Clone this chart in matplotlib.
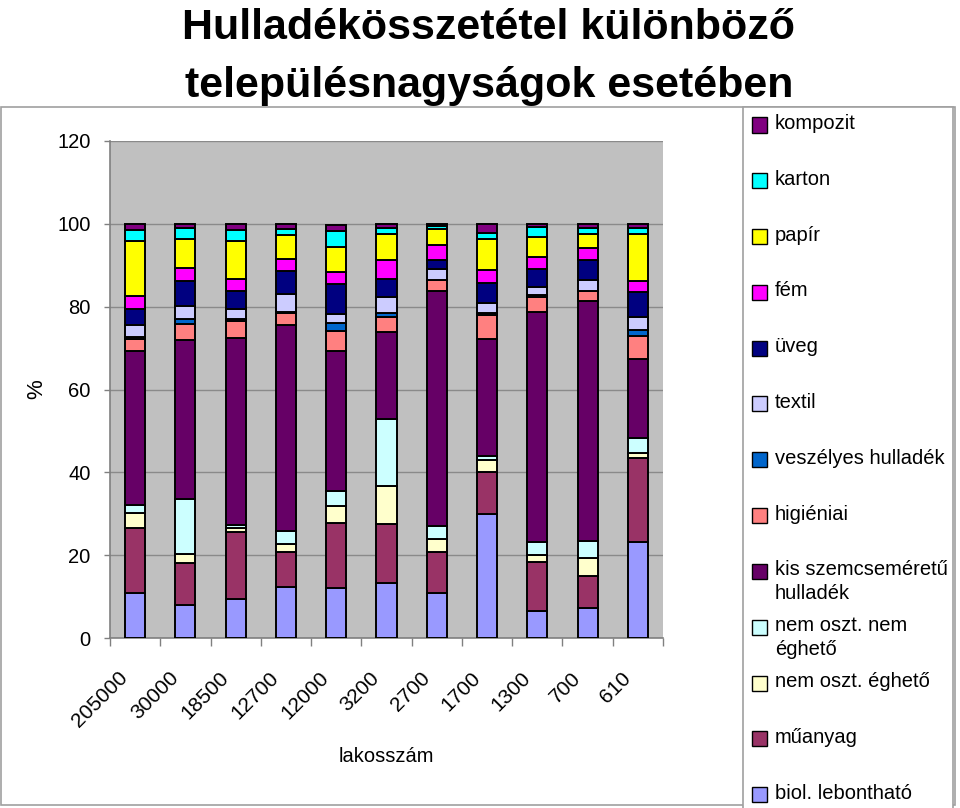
import matplotlib
matplotlib.use('Agg')
import matplotlib.pyplot as plt
from matplotlib.patches import Rectangle
import matplotlib.transforms as mtransforms
import numpy as np

categories = ['205000', '30000', '18500', '12700', '12000', '3200', '2700', '1700', '1300', '700', '610']
biol = [10.9, 8.0, 9.4, 12.4, 12.0, 13.4, 10.8, 29.9, 6.6, 7.2, 23.1]
muanyag = [15.6, 10.0, 16.1, 8.3, 15.8, 14.1, 10.0, 10.1, 11.7, 7.8, 20.3]
eghet = [3.6, 2.2, 1.0, 1.9, 4.1, 9.2, 3.0, 3.0, 1.7, 4.4, 1.2]
nem_eghet = [2.0, 13.3, 0.9, 3.2, 3.6, 16.1, 3.2, 0.9, 3.1, 4.0, 3.6]
kis = [37.2, 38.4, 45.0, 49.8, 33.9, 21.0, 56.8, 28.2, 55.5, 58.0, 19.1]
hig = [2.8, 3.9, 4.1, 2.8, 4.8, 3.6, 2.6, 5.9, 3.8, 2.4, 5.6]
vesz = [0.5, 1.2, 0.5, 0.3, 1.8, 1.0, 0.0, 0.4, 0.4, 0.0, 1.5]
textil = [3.0, 3.2, 2.4, 4.3, 2.2, 4.0, 2.7, 2.4, 1.9, 2.6, 3.2]
uveg = [3.8, 6.0, 4.5, 5.6, 7.3, 4.4, 2.2, 4.8, 4.3, 4.9, 5.9]
fem = [3.2, 3.2, 2.8, 2.9, 2.9, 4.5, 3.6, 3.2, 3.1, 2.9, 2.7]
papir = [13.2, 6.9, 9.1, 5.8, 6.1, 6.2, 3.8, 7.5, 4.8, 3.3, 11.3]
karton = [2.7, 2.6, 2.7, 1.4, 3.8, 1.4, 0.8, 1.6, 2.4, 1.4, 1.4]
kompozit = [1.5, 1.1, 1.5, 1.3, 1.4, 1.1, 0.5, 2.1, 0.7, 1.1, 1.1]

series_names = ['biol. lebontható', 'műanyag', 'nem oszt. éghető', 'nem oszt. nem\néghető',
                'kis szemcseméretű\nhulladék', 'higiéniai', 'veszélyes hulladék', 'textil',
                'üveg', 'fém', 'papír', 'karton', 'kompozit']
series_values = [biol, muanyag, eghet, nem_eghet, kis, hig, vesz, textil, uveg, fem, papir, karton, kompozit]
series_colors = ['#9999FF', '#993366', '#FFFFCC', '#CCFFFF', '#660066', '#FF8080', '#0066CC',
                 '#CCCCFF', '#000080', '#FF00FF', '#FFFF00', '#00FFFF', '#800080']

title_lines = ['Hulladékösszetétel különböző', 'településnagyságok esetében']
NARROW = ['Liberation Sans Narrow', 'Liberation Sans', 'DejaVu Sans']

W, H = 960, 808
fig = plt.figure(figsize=(W / 100, H / 100), dpi=100)
fig.patch.set_facecolor('white')

def fx(x):
    return x / W

def fy(y):
    return 1 - y / H

# title (behind chart area)
fig.text(fx(489), fy(39), title_lines[0], ha='center', va='baseline', fontsize=31,
         fontweight='bold', family=NARROW, zorder=0.5)
fig.text(fx(489), fy(97), title_lines[1], ha='center', va='baseline', fontsize=31,
         fontweight='bold', family=NARROW, zorder=0.5)

# chart area frame covering title descenders
fig.patches.append(Rectangle((fx(1), fy(805)), fx(955) - fx(1), fy(107) - fy(805),
                             transform=fig.transFigure, facecolor='white',
                             edgecolor='#a0a0a0', linewidth=1.2, zorder=1))

ax = fig.add_axes([fx(110), fy(638), fx(663) - fx(110), fy(141) - fy(638)])
ax.set_zorder(2)
ax.set_facecolor('#C0C0C0')

x = np.arange(len(categories))
bottom = np.zeros(len(categories))
for vals, col in zip(series_values, series_colors):
    ax.bar(x, vals, width=0.4, bottom=bottom, color=col, edgecolor='black', linewidth=1.4, zorder=3)
    bottom += np.array(vals)

ax.set_xlim(-0.5, len(categories) - 0.5)
ax.set_ylim(0, 120)
ax.set_yticks(np.arange(0, 121, 20))
ax.yaxis.grid(True, color='#8a8a8a', linewidth=1.0, zorder=1)
ax.set_axisbelow(True)
for s in ['top', 'right']:
    ax.spines[s].set_visible(False)
ax.spines['left'].set_color('#808080')
ax.spines['bottom'].set_color('#808080')
ax.spines['left'].set_linewidth(1.2)
ax.spines['bottom'].set_linewidth(1.2)

ax.tick_params(axis='y', length=4, width=1, color='#808080', pad=10, labelsize=14.5)
for lab in ax.get_yticklabels():
    lab.set_family(NARROW)

# x ticks at category boundaries, labels at centers
ax.set_xticks(np.arange(-0.5, len(categories), 1.0))
ax.set_xticklabels([])
ax.tick_params(axis='x', which='major', length=6, width=1, color='#808080')
ax.set_xticks(x, minor=True)
ax.set_xticklabels(categories, minor=True)
ax.tick_params(axis='x', which='minor', length=0, pad=0, labelsize=15)
offset = mtransforms.ScaledTranslation(-10 / 100, -37 / 100, fig.dpi_scale_trans)
for lab in ax.get_xticklabels(minor=True):
    lab.set_family(NARROW)
    lab.set_rotation(45)
    lab.set_rotation_mode('anchor')
    lab.set_ha('right')
    lab.set_va('center')
    lab.set_transform(lab.get_transform() + offset)

fig.text(fx(386), fy(757), 'lakosszám', ha='center', va='center', fontsize=14.5, family=NARROW, zorder=3)
fig.text(fx(37), fy(389), '%', ha='center', va='center', rotation=90, fontsize=16, family=NARROW, zorder=3)

# legend box
fig.patches.append(Rectangle((fx(743), fy(812)), fx(953) - fx(743), fy(107) - fy(812),
                             transform=fig.transFigure, facecolor='white',
                             edgecolor='#a0a0a0', linewidth=1.2, zorder=3))
pitch = 55.8
for i, (name, col) in enumerate(zip(series_names[::-1], series_colors[::-1])):
    cy = 125 + i * pitch
    fig.patches.append(Rectangle((fx(752), fy(cy + 7.5)), fx(15), 15 / H,
                                 transform=fig.transFigure, facecolor=col,
                                 edgecolor='black', linewidth=1.0, zorder=4))
    fig.text(fx(775), fy(cy - 11), name, ha='left', va='top', fontsize=14.5,
             family=NARROW, linespacing=1.3, zorder=4)

fig.savefig('out.png', dpi=100)
